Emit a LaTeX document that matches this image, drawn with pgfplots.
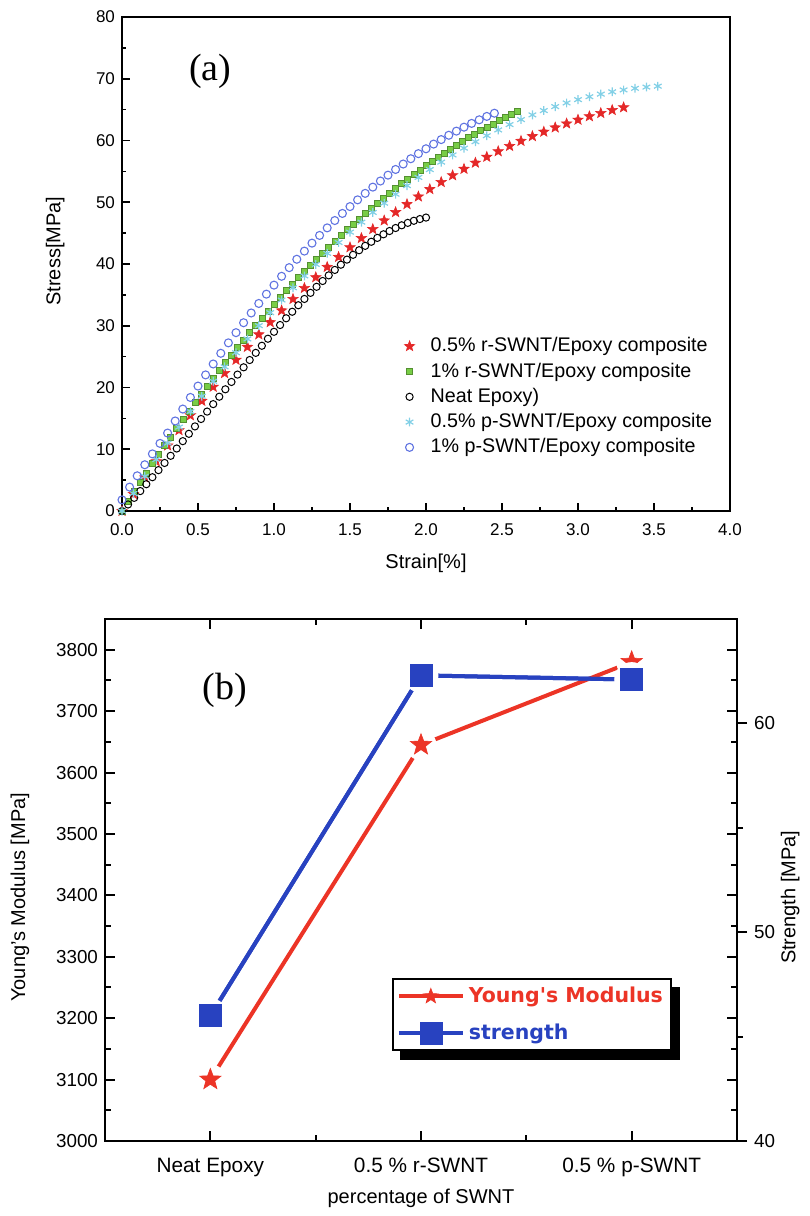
\documentclass[border=0pt]{standalone}
\usepackage{fontspec}
\setmainfont{Liberation Sans}
\newfontfamily\timesfont{Liberation Serif}
\newfontfamily\dejavu{DejaVu Sans}
\usepackage{pgfplots}
\pgfplotsset{compat=1.18}
\usetikzlibrary{plotmarks}
\pgfdeclarelayer{background}
\pgfsetlayers{background,main}

\definecolor{rred}{RGB}{228,40,40}
\definecolor{ggreen}{RGB}{120,205,70}
\definecolor{ccyan}{RGB}{130,208,230}
\definecolor{bblue}{RGB}{95,115,225}
\definecolor{lred}{RGB}{236,52,38}
\definecolor{lblue}{RGB}{40,66,192}

% filled five-pointed star
\pgfdeclareplotmark{fstar}{%
  \pgfpathmoveto{\pgfpointpolar{90}{\pgfplotmarksize}}%
  \pgfpathlineto{\pgfpointpolar{126}{0.42\pgfplotmarksize}}%
  \pgfpathlineto{\pgfpointpolar{162}{\pgfplotmarksize}}%
  \pgfpathlineto{\pgfpointpolar{198}{0.42\pgfplotmarksize}}%
  \pgfpathlineto{\pgfpointpolar{234}{\pgfplotmarksize}}%
  \pgfpathlineto{\pgfpointpolar{270}{0.42\pgfplotmarksize}}%
  \pgfpathlineto{\pgfpointpolar{306}{\pgfplotmarksize}}%
  \pgfpathlineto{\pgfpointpolar{342}{0.42\pgfplotmarksize}}%
  \pgfpathlineto{\pgfpointpolar{18}{\pgfplotmarksize}}%
  \pgfpathlineto{\pgfpointpolar{54}{0.42\pgfplotmarksize}}%
  \pgfpathclose
  \pgfusepathqfillstroke
}

\begin{document}
\begin{tikzpicture}
\useasboundingbox (0,0) rectangle (404.5pt,-608pt);

% ---------------- (a) stress-strain ----------------
\begin{axis}[
    at={(61pt,-8.5pt)}, anchor=north west,
    scale only axis, width=304pt, height=247pt,
    xmin=0, xmax=4, ymin=0, ymax=80,
    xtick={0,0.5,1,1.5,2,2.5,3,3.5,4},
    ytick={0,10,20,30,40,50,60,70,80},
    minor x tick num=1, minor y tick num=1,
    xtick pos=lower, ytick pos=left,
    tick align=inside,
    major tick length=4pt, minor tick length=2.2pt,
    axis line style={line width=1pt},
    every tick/.style={black, line width=0.8pt},
    clip=false,
    /pgf/number format/assume math mode=true,
    tick label style={font=\fontsize{8.5}{10}\selectfont},
    xticklabel style={yshift=-3pt,/pgf/number format/fixed,/pgf/number format/fixed zerofill,/pgf/number format/precision=1},
    xlabel={Strain[\%]}, ylabel={Stress[MPa]},
    label style={font=\fontsize{11.1}{13}\selectfont},
    every axis x label/.style={at={(axis description cs:0.5,-0.105)}, anchor=center},
    every axis y label/.style={at={(axis description cs:-0.11,0.526)}, anchor=center, rotate=90},
    legend style={at={(axis description cs:0.454,0.368)}, anchor=north west,
        draw=none, fill=none, font=\fontsize{9.85}{12}\selectfont, row sep=0pt, column sep=6pt},
    legend cell align=left,
]
\addplot[only marks, mark=fstar, mark size=2.7pt, draw=rred, fill=rred, line width=0.3pt]
coordinates {(0,0) (0.075,2.75) (0.15,5.43) (0.225,8.04) (0.3,10.59) (0.375,13.07) (0.45,15.48)
(0.525,17.82) (0.6,20.10) (0.675,22.32) (0.75,24.47) (0.825,26.56) (0.9,28.59) (0.975,30.56)
(1.05,32.47) (1.125,34.32) (1.2,36.10) (1.275,37.84) (1.35,39.51) (1.425,41.13) (1.5,42.69)
(1.575,44.19) (1.65,45.64) (1.725,47.04) (1.8,48.39) (1.875,49.68) (1.95,50.92) (2.025,52.11)
(2.1,53.26) (2.175,54.35) (2.25,55.39) (2.325,56.39) (2.4,57.34) (2.475,58.24) (2.55,59.10)
(2.625,59.92) (2.7,60.69) (2.775,61.41) (2.85,62.10) (2.925,62.74) (3.0,63.35) (3.075,63.91)
(3.15,64.43) (3.225,64.92) (3.3,65.36)};
\addlegendentry{0.5\% r-SWNT/Epoxy composite}

\addplot[only marks, mark=square*, mark size=1.5pt, draw=ggreen!70!black, fill=ggreen, line width=0.3pt]
coordinates {(0,0) (0.04,1.57) (0.08,3.12) (0.12,4.65) (0.16,6.16) (0.2,7.65) (0.24,9.12) (0.28,10.57)
(0.32,12.01) (0.36,13.42) (0.4,14.81) (0.44,16.19) (0.48,17.55) (0.52,18.88) (0.56,20.20)
(0.6,21.50) (0.64,22.78) (0.68,24.04) (0.72,25.29) (0.76,26.51) (0.8,27.72) (0.84,28.91)
(0.88,30.08) (0.92,31.23) (0.96,32.37) (1.0,33.49) (1.04,34.59) (1.08,35.67) (1.12,36.73)
(1.16,37.78) (1.2,38.81) (1.24,39.83) (1.28,40.82) (1.32,41.80) (1.36,42.76) (1.4,43.71)
(1.44,44.64) (1.48,45.55) (1.52,46.44) (1.56,47.32) (1.6,48.19) (1.64,49.03) (1.68,49.86)
(1.72,50.68) (1.76,51.48) (1.8,52.26) (1.84,53.02) (1.88,53.78) (1.92,54.51) (1.96,55.23)
(2.0,55.94) (2.04,56.63) (2.08,57.30) (2.12,57.96) (2.16,58.60) (2.2,59.23) (2.24,59.85)
(2.28,60.45) (2.32,61.03) (2.36,61.60) (2.4,62.16) (2.44,62.70) (2.48,63.23) (2.52,63.74)
(2.56,64.24) (2.6,64.72)};
\addlegendentry{1\% r-SWNT/Epoxy composite}

\addplot[only marks, mark=o, mark size=1.8pt, black, line width=0.5pt]
coordinates {(0,0) (0.04,1.06) (0.08,2.13) (0.12,3.23) (0.16,4.34) (0.2,5.47) (0.24,6.62) (0.28,7.78)
(0.32,8.94) (0.36,10.12) (0.4,11.31) (0.44,12.50) (0.48,13.70) (0.52,14.90) (0.56,16.10)
(0.6,17.31) (0.64,18.51) (0.68,19.71) (0.72,20.90) (0.76,22.09) (0.8,23.27) (0.84,24.45)
(0.88,25.61) (0.92,26.76) (0.96,27.90) (1.0,29.02) (1.04,30.12) (1.08,31.21) (1.12,32.27)
(1.16,33.32) (1.2,34.34) (1.24,35.33) (1.28,36.31) (1.32,37.25) (1.36,38.16) (1.4,39.04)
(1.44,39.89) (1.48,40.71) (1.52,41.49) (1.56,42.23) (1.6,42.94) (1.64,43.60) (1.68,44.23)
(1.72,44.81) (1.76,45.34) (1.8,45.83) (1.84,46.27) (1.88,46.66) (1.92,47.00) (1.96,47.28)
(2.0,47.52)};
\addlegendentry{Neat Epoxy)}

\addplot[only marks, mark=asterisk, mark size=2.2pt, ccyan, line width=0.6pt]
coordinates {(0,0) (0.075,2.84) (0.15,5.62) (0.225,8.34) (0.3,11.00) (0.375,13.59) (0.45,16.12)
(0.525,18.59) (0.6,21.00) (0.675,23.35) (0.75,25.63) (0.825,27.86) (0.9,30.02) (0.975,32.12)
(1.05,34.17) (1.125,36.15) (1.2,38.07) (1.275,39.93) (1.35,41.73) (1.425,43.48) (1.5,45.16)
(1.575,46.78) (1.65,48.35) (1.725,49.85) (1.8,51.30) (1.875,52.69) (1.95,54.02) (2.025,55.29)
(2.1,56.50) (2.175,57.66) (2.25,58.76) (2.325,59.80) (2.4,60.78) (2.475,61.71) (2.55,62.58)
(2.625,63.39) (2.7,64.15) (2.775,64.85) (2.85,65.49) (2.925,66.08) (3.0,66.62) (3.075,67.09)
(3.15,67.51) (3.225,67.88) (3.3,68.19) (3.375,68.45) (3.45,68.65) (3.525,68.80)};
\addlegendentry{0.5\% p-SWNT/Epoxy composite}

\addplot[only marks, mark=o, mark size=2pt, bblue, line width=0.55pt]
coordinates {(0,1.8) (0.05,3.87) (0.1,5.70) (0.15,7.49) (0.2,9.25) (0.25,10.95) (0.3,12.62)
(0.35,14.58) (0.4,16.51) (0.45,18.39) (0.5,20.23) (0.55,22.04) (0.6,23.81) (0.65,25.54)
(0.7,27.23) (0.75,28.88) (0.8,30.49) (0.85,32.07) (0.9,33.61) (0.95,35.12) (1.0,36.58)
(1.05,38.01) (1.1,39.41) (1.15,40.77) (1.2,42.09) (1.25,43.38) (1.3,44.63) (1.35,45.85)
(1.4,47.04) (1.45,48.19) (1.5,49.30) (1.55,50.39) (1.6,51.44) (1.65,52.45) (1.7,53.44)
(1.75,54.39) (1.8,55.31) (1.85,56.19) (1.9,57.05) (1.95,57.87) (2.0,58.66) (2.05,59.42)
(2.1,60.15) (2.15,60.85) (2.2,61.52) (2.25,62.16) (2.3,62.77) (2.35,63.35) (2.4,63.90)
(2.45,64.42)};
\addlegendentry{1\% p-SWNT/Epoxy composite}

\node[font=\timesfont\fontsize{19}{22}\selectfont] at (axis description cs:0.145,0.889) {(a)};
\end{axis}

% ---------------- (b) modulus (left) ----------------
\begin{axis}[
    at={(52.5pt,-309.5pt)}, anchor=north west,
    scale only axis, width=316pt, height=261pt,
    xmin=-0.5, xmax=2.5, ymin=3000, ymax=3850,
    xtick={0,1,2},
    xticklabels={Neat Epoxy, 0.5 \% r-SWNT, 0.5 \% p-SWNT},
    minor xtick={0.5,1.5},
    ytick={3000,3100,3200,3300,3400,3500,3600,3700,3800},
    minor ytick={3050,3150,3250,3350,3450,3550,3650,3750},
    tick align=inside,
    major tick length=5pt, minor tick length=3pt,
    axis line style={line width=1.3pt},
    every tick/.style={black, line width=1pt},
    clip=false,
    /pgf/number format/assume math mode=true,
    /pgf/number format/1000 sep={},
    xticklabel style={yshift=-5pt, font=\fontsize{10.4}{12}\selectfont},
    yticklabel style={font=\fontsize{9.4}{11}\selectfont},
    xlabel={percentage of SWNT}, ylabel={Young's Modulus [MPa]},
    label style={font=\fontsize{12}{14}\selectfont},
    every axis x label/.style={at={(axis description cs:0.5,-0.109)}, anchor=center},
    every axis y label/.style={at={(axis description cs:-0.1345,0.467)}, anchor=center, rotate=90},
]
\addplot[lred, line width=2pt] coordinates {(0,3100) (1,3645) (2,3780)};
\addplot[only marks, mark=*, mark size=7.5pt, white] coordinates {(0,3100) (1,3645) (2,3780)};
\addplot[only marks, mark=fstar, mark size=5.6pt, draw=lred, fill=lred, line width=0.3pt]
    coordinates {(0,3100) (1,3645) (2,3780)};
\node[font=\timesfont\fontsize{19}{22}\selectfont] at (axis description cs:0.19,0.864) {(b)};
\end{axis}

% ---------------- (b) strength (right) ----------------
\begin{axis}[
    at={(52.5pt,-309.5pt)}, anchor=north west,
    scale only axis, width=316pt, height=261pt,
    xmin=-0.5, xmax=2.5, ymin=40, ymax=65,
    axis x line=none, axis y line*=right,
    ytick={40,50,60}, minor ytick={45,55},
    tick align=outside,
    major tick length=5pt, minor tick length=3pt,
    axis line style={line width=1.3pt},
    every tick/.style={black, line width=1pt},
    clip=false,
    /pgf/number format/assume math mode=true,
    yticklabel style={font=\fontsize{9.4}{11}\selectfont},
    ylabel={Strength [MPa]},
    label style={font=\fontsize{12}{14}\selectfont},
    every axis y label/.style={at={(axis description cs:1.084,0.467)}, anchor=center, rotate=90},
    legend style={at={(axis description cs:0.454,0.312)}, anchor=north west, name=legb,
        draw=black, line width=0.9pt, fill=white,
        font=\dejavu\bfseries\fontsize{10.25}{12}\selectfont,
        row sep=5pt, inner sep=2pt},
    legend cell align=left,
    legend image code/.code={%
        \draw[mark repeat=2,mark phase=2] plot coordinates {(0pt,0pt) (16pt,0pt) (32pt,0pt)};},
]
\addlegendimage{lred, line width=2pt, mark=fstar, mark size=4pt, mark options={fill=lred, line width=0.3pt}}
\addlegendentry{\textcolor{lred}{Young's Modulus}}
\addplot[lblue, line width=2pt, forget plot] coordinates {(0,46.0) (1,62.3) (2,62.1)};
\addplot[only marks, mark=*, mark size=8.5pt, white, forget plot] coordinates {(0,46.0) (1,62.3) (2,62.1)};
\addplot[lblue, line width=2pt, mark=square*, mark size=5.5pt, mark options={line width=0.3pt, fill=lblue}]
    coordinates {(0,46.0) (1,62.3) (2,62.1)};
\addlegendentry{\textcolor{lblue}{strength}}
\end{axis}
\begin{pgfonlayer}{background}
\fill[black] ([shift={(4pt,-4.5pt)}]legb.south west) rectangle ([shift={(4pt,-4.5pt)}]legb.north east);
\end{pgfonlayer}
\end{tikzpicture}
\end{document}
